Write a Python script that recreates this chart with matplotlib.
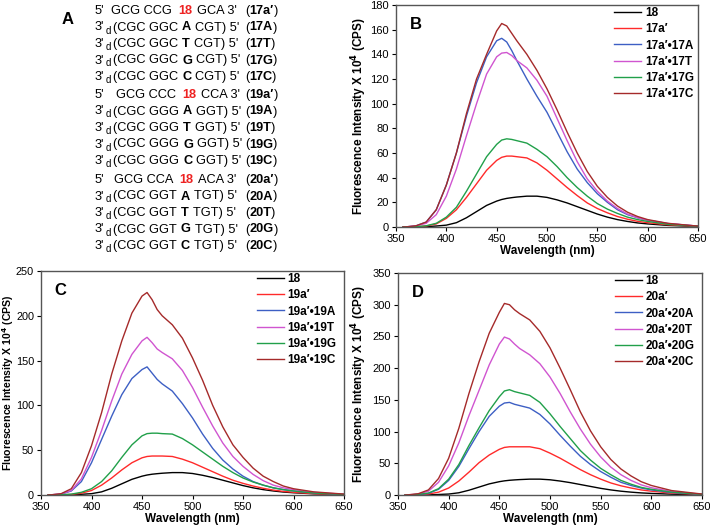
import matplotlib
matplotlib.use("Agg")
import matplotlib.pyplot as plt

plt.rcParams['font.family'] = ['Liberation Sans', 'DejaVu Sans']

W, H = 710, 527

# wavelength grid (nm)
wl = [357, 360, 370, 380, 390, 400, 410, 420, 430, 440, 450, 455, 460, 465, 470,
      480, 490, 500, 510, 520, 530, 540, 550, 560, 570, 580, 590, 600, 620, 650]

# free fluorophore 18 (same in all panels)
y18 = [0, 0, 0.1, 0.3, 0.8, 1.5, 3.5, 7.5, 12.5, 17.5, 21, 22.3, 23.2, 23.8, 24.3,
       25, 25, 24, 22, 19.5, 16.5, 13.5, 10.5, 8, 6, 4.5, 3.3, 2.5, 1.3, 0.4]

# panel B
b_17a = [0, 0, 0.2, 0.8, 2.5, 7, 14, 24, 35, 46, 54, 56.5, 57.5, 57.5, 57,
         56, 52, 46, 39, 32, 25.5, 19.5, 15, 11.5, 8.5, 6.3, 4.6, 3.5, 1.8, 0.5]
b_17A = [0, 0.1, 1, 4, 14, 34, 60, 90, 117, 138, 151, 153, 150, 143, 135,
         120, 106, 93, 77, 61, 47, 36, 27, 20, 14, 10, 7.5, 5.5, 2.8, 0.7]
b_17T = [0, 0.1, 0.8, 3, 10, 25, 47, 74, 100, 124, 138, 141, 141.5, 139, 135,
         129, 119, 106, 88, 70, 53, 39, 29, 21, 15, 10.5, 7.5, 5.5, 2.8, 0.7]
b_17G = [0, 0, 0.2, 1, 3, 8, 16, 29, 43, 57, 67, 70.5, 71.5, 71, 70,
         68, 63, 57, 49, 40, 32, 25, 19, 14.5, 11, 8, 6, 4.5, 2.2, 0.6]
b_17C = [0, 0.1, 1, 4, 14, 34, 60, 92, 120, 140, 159, 165, 163, 157, 151,
         140, 127, 112, 95, 77, 60, 45, 33, 24, 17, 12, 8.5, 6, 3, 0.7]

# panel C
c_19a = [0, 0, 0.2, 0.6, 2, 5, 11, 19, 28, 36, 41.5, 43, 43.5, 43.5, 43.5,
         43, 40, 36, 31, 26, 21, 16.5, 13, 10, 7.5, 5.5, 4, 3, 1.5, 0.4]
c_19A = [0, 0.2, 1, 4.5, 15, 36, 62, 88, 112, 130, 140, 143, 136, 129, 124,
         116, 102, 86, 68, 52, 39, 29, 21, 15, 11, 8, 6, 4.5, 2.3, 0.6]
c_19T = [0, 0.2, 1.2, 5, 18, 42, 72, 105, 135, 157, 172, 176, 170, 163, 159,
         152, 139, 120, 98, 77, 58, 43, 32, 23, 16, 11, 8, 6, 3, 0.8]
c_19G = [0, 0, 0.3, 1, 3, 7, 15, 27, 42, 56, 66, 68.5, 69, 69, 68.5,
         68, 63, 56, 48, 40, 32, 25, 19, 14.5, 11, 8, 6, 4.5, 2.2, 0.6]
c_19C = [0, 0.2, 1.5, 7, 25, 55, 92, 135, 172, 203, 222, 226, 218, 207, 200,
         190, 175, 153, 128, 100, 76, 56, 42, 30, 21, 15, 10, 7, 3.5, 1]

# panel D
d_20a = [0, 0, 0.4, 1.5, 4.5, 11, 22, 36, 51, 63, 72, 75, 76, 76, 76,
         76, 73, 66, 58, 49, 40, 32, 25, 19, 14.5, 11, 8, 6, 3, 0.7]
d_20A = [0, 0.1, 0.8, 2.5, 9, 23, 45, 73, 100, 124, 140, 145, 146, 143, 141,
         137, 127, 112, 94, 77, 61, 48, 37, 28, 20, 15, 11, 8, 4, 1]
d_20T = [0, 0.2, 1.5, 6, 20, 46, 82, 125, 165, 205, 238, 249, 246, 238, 231,
         221, 207, 186, 160, 131, 104, 80, 60, 44, 32, 23, 16, 11.5, 5.5, 1.2]
d_20G = [0, 0.1, 1, 3, 10, 25, 48, 78, 106, 133, 155, 164, 166, 163, 161,
         157, 146, 128, 108, 89, 70, 55, 42, 32, 23, 17, 12, 9, 4.5, 1]
d_20C = [0, 0.3, 2, 8, 26, 58, 105, 160, 210, 255, 288, 302, 300, 292, 286,
         276, 258, 232, 200, 166, 131, 101, 76, 56, 41, 30, 21, 15, 7, 1.5]

colors = ['black', '#ff2a2a', '#3d5fc4', '#d055d0', '#21a04a', '#a52a2a']

fig = plt.figure(figsize=(7.1, 5.27), dpi=100)


def make_panel(rect, letter, series, labels, ymax, ystep, leg_x, ylab_x,
               ylab_size=8.5, ytick_size=8):
    ax = fig.add_axes(rect)
    for ys, lab, c in zip(series, labels, colors):
        ax.plot(wl, ys, color=c, lw=1.0, label=lab)
    ax.set_xlim(350, 650)
    ax.set_ylim(0, ymax)
    ax.set_xticks(range(350, 651, 50))
    ax.set_yticks(range(0, ymax + 1, ystep))
    ax.tick_params(direction='out', length=3, width=0.8, labelsize=8, pad=2)
    ax.tick_params(axis='y', labelsize=ytick_size)
    for sp in ax.spines.values():
        sp.set_color('#555555')
        sp.set_linewidth(1.0)
    ax.set_xlabel('Wavelength (nm)', fontsize=8.5, fontweight='bold', labelpad=1)
    ax.set_ylabel('Fluorescence Intensity X 10$^{\\mathbf{4}}$ (CPS)',
                  fontsize=ylab_size, fontweight='bold')
    ax.yaxis.set_label_coords(ylab_x, 0.5)
    ax.text(0.045, 0.945, letter, transform=ax.transAxes, fontsize=12,
            fontweight='bold', va='top', ha='left')
    ax.legend(loc='upper left', bbox_to_anchor=(leg_x, 1.0), frameon=False,
              prop={'weight': 'bold', 'size': 8.5}, handlelength=2.3,
              handletextpad=0.3, labelspacing=0.35, borderpad=0.2,
              borderaxespad=0.0)
    return ax


def frac(x0, y0, x1, y1):
    return [x0 / W, 1 - y1 / H, (x1 - x0) / W, (y1 - y0) / H]


make_panel(frac(396, 5, 698, 227), 'B',
           [y18, b_17a, b_17A, b_17T, b_17G, b_17C],
           ['18', '17a′', '17a′•17A', '17a′•17T', '17a′•17G', '17a′•17C'],
           180, 20, 0.715, -0.089)
make_panel(frac(41, 271, 344, 495), 'C',
           [y18, c_19a, c_19A, c_19T, c_19G, c_19C],
           ['18', '19a′', '19a′•19A', '19a′•19T', '19a′•19G', '19a′•19C'],
           250, 50, 0.705, -0.0825, ylab_size=7.6, ytick_size=7.8)
make_panel(frac(398, 273, 702, 495), 'D',
           [y18, d_20a, d_20A, d_20T, d_20G, d_20C],
           ['18', '20a′', '20a′•20A', '20a′•20T', '20a′•20G', '20a′•20C'],
           350, 50, 0.705, -0.095)

# panel A: sequences
fig.text(68 / W, 1 - 20 / H, 'A', fontsize=12, fontweight='bold',
         ha='center', va='center')

renderer = fig.canvas.get_renderer()
FS = 9.2


def put(x, y, s, **kw):
    t = fig.text(x / W, 1 - y / H, s, fontsize=kw.pop('size', FS),
                 ha='left', va='baseline', **kw)
    return t.get_window_extent(renderer).x1


def top_strand(y, left, right, x_gcg):
    put(95, y, "5'")
    x = put(x_gcg, y, left)
    x = put(x + 6, y, '18', color='#ee2222', fontweight='bold')
    put(x + 5, y, right)


def bottom_strand(y, left, base, right):
    put(95, y, "3'")
    put(106, y + 3, 'd', size=7)
    x = put(113, y, '(' + left)
    x = put(x + 4, y, base, fontweight='bold')
    put(x + 4, y, right)


def label(y, s):
    x = put(245, y, '(')
    x = put(x, y, s, fontweight='bold')
    put(x, y, ')')


seq_groups = [
    ('GCG CCG', 'GCA 3\'', '17', 'CGC GGC', 'CGT) 5\'', 111),
    ('GCG CCC', 'CCA 3\'', '19', 'CGC GGG', 'GGT) 5\'', 116),
    ('GCG CCA', 'ACA 3\'', '20', 'CGC GGT', 'TGT) 5\'', 114),
]
bases = ['A', 'T', 'G', 'C']
group_tops = [14, 98, 183]
for (tl, tr, num, bl, br, xg), y0 in zip(seq_groups, group_tops):
    top_strand(y0, tl, tr, xg)
    label(y0, num + 'a′')
    for i, b in enumerate(bases):
        yy = y0 + 16.5 * (i + 1)
        bottom_strand(yy, bl, b, br)
        label(yy, num + b)

fig.savefig('out.png', dpi=100)
